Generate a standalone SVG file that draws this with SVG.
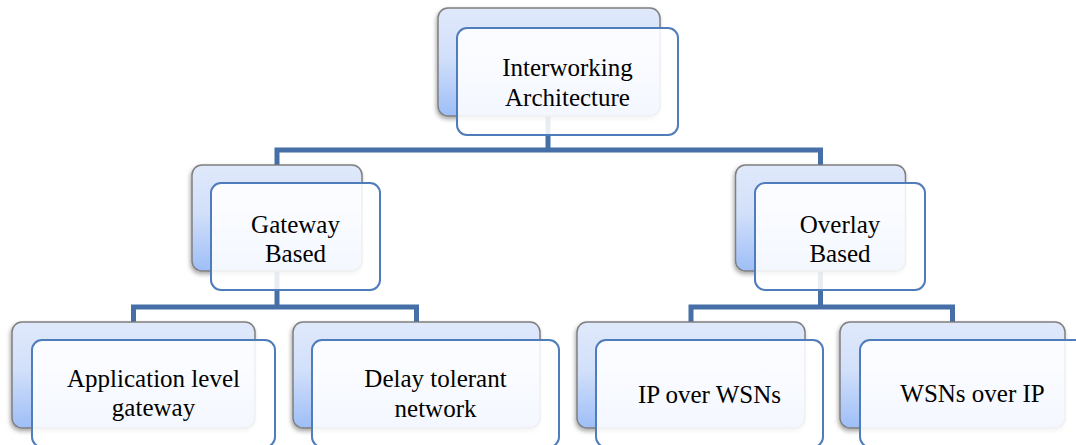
<svg xmlns="http://www.w3.org/2000/svg" width="1076" height="445" viewBox="0 0 1076 445">
  <style>
    .back { fill: url(#backFill); stroke: #7f7f7f; stroke-width: 1.5; filter: url(#shadow); }
    .front { fill: #ffffff; fill-opacity: 0.88; stroke: #4f7cba; stroke-width: 2; }
    .label { font-family: "Times New Roman", Times, Tinos, "Liberation Serif", "DejaVu Serif", "Noto Serif", FreeSerif, serif; font-size: 25px; fill: #000000; text-anchor: middle; }
    .link { fill: none; stroke: #456fa6; stroke-width: 5; stroke-linejoin: miter; }
  </style>
  <defs>
    <linearGradient id="backFill" x1="0" y1="0" x2="0" y2="1">
      <stop offset="0" stop-color="#e0e9fb"/>
      <stop offset="0.45" stop-color="#d2e0fa"/>
      <stop offset="1" stop-color="#9ebef7"/>
    </linearGradient>
    <filter id="shadow" x="-10%" y="-10%" width="120%" height="130%">
      <feDropShadow dx="-1" dy="2.5" stdDeviation="2" flood-color="#000000" flood-opacity="0.35"/>
    </filter>
  </defs>

  <rect width="1076" height="445" fill="#ffffff"/>

  <!-- tree connectors -->
  <g id="connectors">
    <path class="link" d="M548 116 V150"/>
    <path class="link" d="M277 165 V150 H820.5 V165"/>
    <path class="link" d="M277 270 V307"/>
    <path class="link" d="M133.5 322 V307 H416.5 V322"/>
    <path class="link" d="M820.5 270 V307"/>
    <path class="link" d="M691 322 V307 H952.5 V322"/>
  </g>

  <!-- root -->
  <g id="node-interworking">
    <rect class="back" x="438" y="8" width="222" height="108" rx="10"/>
    <rect class="front" x="457" y="28" width="221" height="107" rx="10"/>
    <text class="label" x="567.5" y="76">Interworking</text>
    <text class="label" x="567.5" y="106">Architecture</text>
  </g>

  <!-- second level -->
  <g id="node-gateway">
    <rect class="back" x="192" y="165" width="170" height="106" rx="10"/>
    <rect class="front" x="211" y="183" width="169" height="107" rx="10"/>
    <text class="label" x="295.5" y="233">Gateway</text>
    <text class="label" x="295.5" y="262">Based</text>
  </g>

  <g id="node-overlay">
    <rect class="back" x="735.5" y="165" width="170" height="106" rx="10"/>
    <rect class="front" x="755" y="183" width="170" height="107" rx="10"/>
    <text class="label" x="840" y="233">Overlay</text>
    <text class="label" x="840" y="262">Based</text>
  </g>

  <!-- leaves -->
  <g id="node-alg">
    <rect class="back" x="12" y="322" width="243" height="106" rx="10"/>
    <rect class="front" x="32" y="340" width="243" height="107" rx="10"/>
    <text class="label" x="153.5" y="387">Application level</text>
    <text class="label" x="153.5" y="416">gateway</text>
  </g>

  <g id="node-dtn">
    <rect class="back" x="293" y="322" width="247" height="106" rx="10"/>
    <rect class="front" x="312" y="340" width="247" height="107" rx="10"/>
    <text class="label" x="435.5" y="387">Delay tolerant</text>
    <text class="label" x="435.5" y="417">network</text>
  </g>

  <g id="node-ip-over-wsn">
    <rect class="back" x="577" y="322" width="228" height="106" rx="10"/>
    <rect class="front" x="596" y="340" width="227" height="107" rx="10"/>
    <text class="label" x="709.5" y="403">IP over WSNs</text>
  </g>

  <g id="node-wsn-over-ip">
    <rect class="back" x="840" y="322" width="225" height="106" rx="10"/>
    <rect class="front" x="860" y="340" width="225" height="107" rx="10"/>
    <text class="label" x="972.5" y="402">WSNs over IP</text>
  </g>
</svg>
